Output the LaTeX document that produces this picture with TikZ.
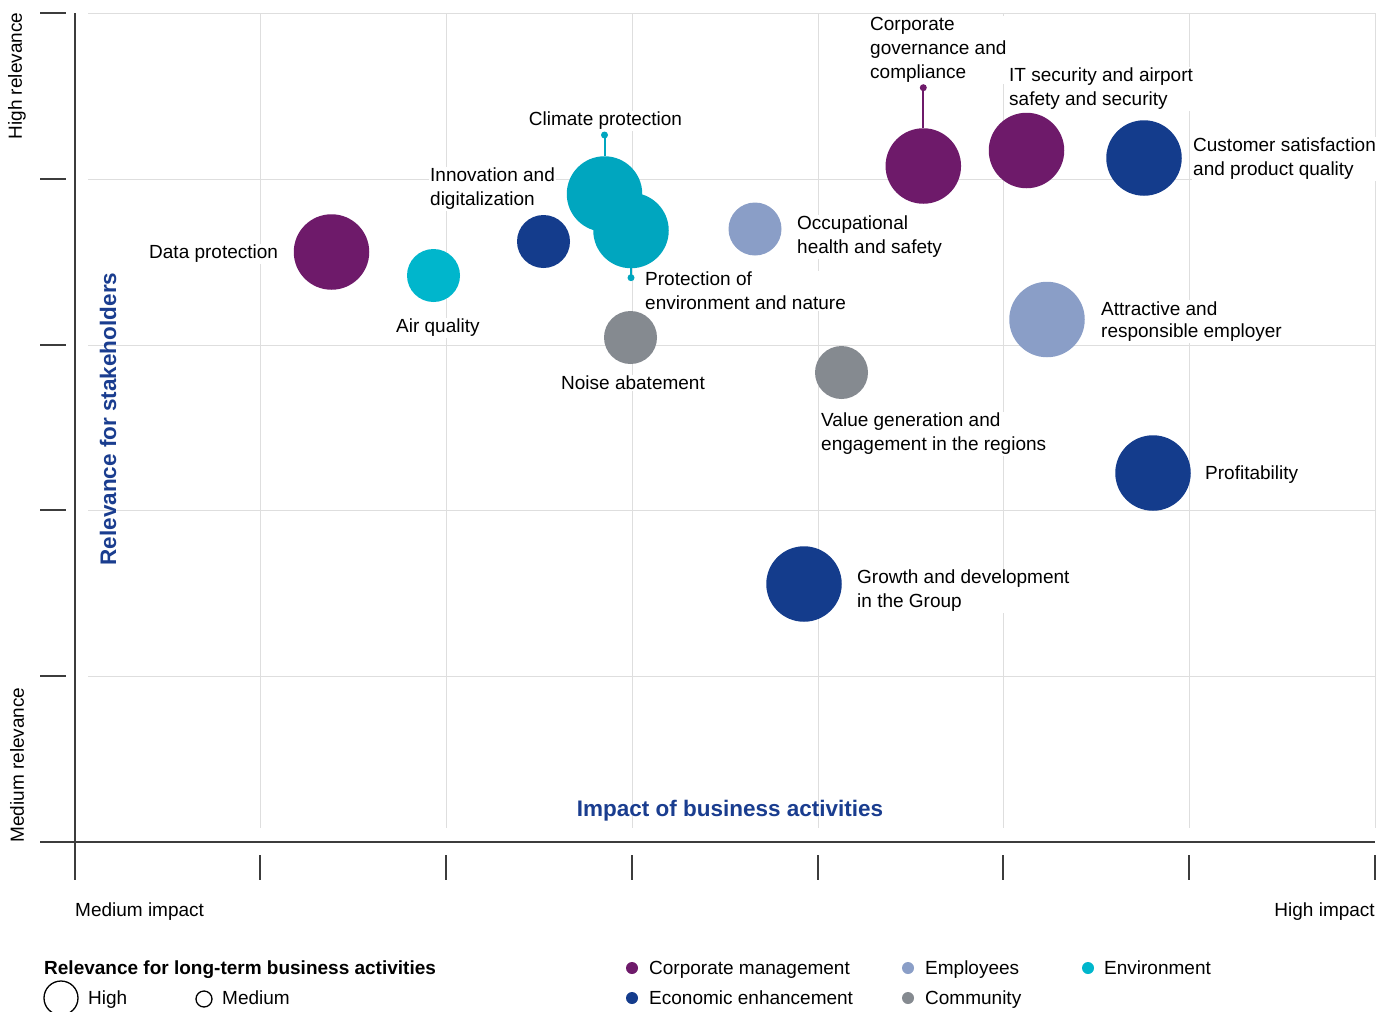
\documentclass[tikz,border=0pt]{standalone}
\usepackage{fontspec}
\setmainfont{Liberation Sans}
\definecolor{cpurple}{HTML}{6E1A6A}
\definecolor{cdblue}{HTML}{143C8C}
\definecolor{clblue}{HTML}{8A9EC7}
\definecolor{cgray}{HTML}{858A90}
\definecolor{ccyan}{HTML}{00A6BF}
\definecolor{ccyanb}{HTML}{00B6CC}
\definecolor{cgrid}{HTML}{DEDEDE}
\definecolor{caxis}{HTML}{3C3C3C}
\definecolor{ctitle}{HTML}{1A3D8F}
\begin{document}
\begin{tikzpicture}[x=1pt,y=-1pt,
  bub/.style={circle,inner sep=0pt,draw=none},
  big/.style={bub,minimum size=75.5pt},
  small/.style={bub,minimum size=53pt},
  dotn/.style={circle,inner sep=0pt,minimum size=7pt},
  lab/.style={fill=white,inner sep=1.5pt,align=left,anchor=west,yshift=-2pt,font=\fontsize{19}{24}\selectfont,text=black},
  labc/.style={lab,anchor=center,align=center},
  gridl/.style={draw=cgrid,line width=1pt},
  axisl/.style={draw=caxis,line width=1.8pt},
  tickl/.style={draw=caxis,line width=1.5pt},
  legdot/.style={circle,inner sep=0pt,minimum size=12pt},
  legt/.style={anchor=west,inner sep=0pt,text height=13.6pt,text depth=0pt,font=\fontsize{19}{24}\selectfont}
]
\useasboundingbox (0,0) rectangle (1390,1012);
% grid
\foreach \yy in {13,179,345,510,676} \draw[gridl] (88,\yy) -- (1375,\yy);
\foreach \xx in {260,446,632,818,1003,1189,1375} \draw[gridl] (\xx,13) -- (\xx,828);
% axes
\coordinate (ytop) at (75,13);
\coordinate (ybot) at (75,880);
\coordinate (xl) at (40,842);
\coordinate (xr) at (1375,842);
\draw[axisl] (ytop) -- (ybot);
\draw[axisl] (xl) -- (xr);
\foreach \yy in {13,179,345,510,676} \draw[tickl] (40,\yy) -- (66,\yy);
\foreach \xx in {260,446,632,818,1003,1189,1375} \draw[tickl] (\xx,855) -- (\xx,880);
% axis labels
\node[rotate=90,inner sep=0pt,font=\fontsize{19}{24}\selectfont] (hr) at (17,76) {High relevance};
\node[rotate=90,inner sep=0pt,font=\fontsize{19}{24}\selectfont] (mr) at (17,765) {Medium relevance};
\node[rotate=90,inner sep=0pt,font=\fontsize{22.5}{27}\selectfont\bfseries,text=ctitle] (rs) at (108,419) {Relevance for stakeholders};
\node[inner sep=0pt,font=\fontsize{22.5}{27}\selectfont\bfseries,text=ctitle] (ib) at (730,810.5) {Impact of business activities};
\node[legt] (mi) at (75,910) {Medium impact};
\node[legt,anchor=east] (hi) at (1375,910) {High impact};
% labels
\node[lab] (lcg) at (868.5,48) {Corporate\\governance and\\compliance};
\node[lab] (lit) at (1007.5,87) {IT security and airport\\safety and security};
\node[labc] (lcp) at (605.5,119) {Climate protection};
\node[lab] (lid) at (428.5,187) {Innovation and\\digitalization};
\node[lab] (ldp) at (147.5,252) {Data protection};
\node[lab] (lcs) at (1191.5,157) {Customer satisfaction\\and product quality};
\node[lab] (loh) at (795.5,235) {Occupational\\health and safety};
\node[lab] (lpe) at (643.5,289) {Protection of\\environment and nature};
\node[lab] (laq) at (394.5,326) {Air quality};
\node[lab,font=\fontsize{19}{21.5}\selectfont] (lae) at (1099.5,319.5) {Attractive and\\responsible employer};
\node[lab] (lna) at (559.5,381) {Noise abatement};
\node[lab] (lvg) at (819.5,432) {Value generation and\\engagement in the regions};
\node[lab] (lpr) at (1203.5,473) {Profitability};
\node[lab] (lgd) at (855.5,589) {Growth and development\\in the Group};
% bubbles
\node[big,fill=cpurple] (dp) at (331.5,252) {};
\node[small,fill=ccyanb] (aq) at (433.5,275.5) {};
\node[small,fill=cdblue] (id) at (543.5,241.5) {};
\node[big,fill=ccyan] (cp) at (604.5,194) {};
\node[big,fill=ccyan] (pe) at (631,230.5) {};
\node[small,fill=cgray] (na) at (630.5,337.5) {};
\node[small,fill=clblue] (oh) at (755,229) {};
\node[small,fill=cgray] (vg) at (841.5,372.5) {};
\node[big,fill=cdblue] (gd) at (804,584) {};
\node[big,fill=cpurple] (cg) at (923.3,166) {};
\node[big,fill=cpurple] (it) at (1026.5,150.5) {};
\node[big,fill=cdblue] (cs) at (1144,158) {};
\node[big,fill=clblue] (ae) at (1047,319.5) {};
\node[big,fill=cdblue] (pr) at (1153,473) {};
% stems
\node[dotn,fill=ccyan] (cpd) at (604.5,135) {};
\draw[ccyan,line width=2pt] (cpd.center) -- (cp.north);
\node[dotn,fill=ccyan] (ped) at (631,277.7) {};
\draw[ccyan,line width=2pt] (pe.south) -- (ped.center);
\node[dotn,fill=cpurple] (cgd) at (923.3,87.7) {};
\draw[cpurple,line width=2pt] (cgd.center) -- (cg.north);
% legend
\node[legt,font=\fontsize{19}{24}\selectfont\bfseries] (lt) at (44,968) {Relevance for long-term business activities};
\node[circle,draw=black,line width=1.3pt,minimum size=34pt,inner sep=0pt] (lh) at (61,998) {};
\node[legt] (lht) at (88,998) {High};
\node[circle,draw=black,line width=1.3pt,minimum size=16pt,inner sep=0pt] (lm) at (204,999) {};
\node[legt] (lmt) at (222,998) {Medium};
\node[legdot,fill=cpurple] (d1) at (632,968) {};
\node[legt] (t1) at (649,968) {Corporate management};
\node[legdot,fill=cdblue] (d2) at (632,998) {};
\node[legt] (t2) at (649,998) {Economic enhancement};
\node[legdot,fill=clblue] (d3) at (908,968) {};
\node[legt] (t3) at (925,968) {Employees};
\node[legdot,fill=cgray] (d4) at (908,998) {};
\node[legt] (t4) at (925,998) {Community};
\node[legdot,fill=ccyanb] (d5) at (1088,968) {};
\node[legt] (t5) at (1104,968) {Environment};
\end{tikzpicture}
\end{document}
